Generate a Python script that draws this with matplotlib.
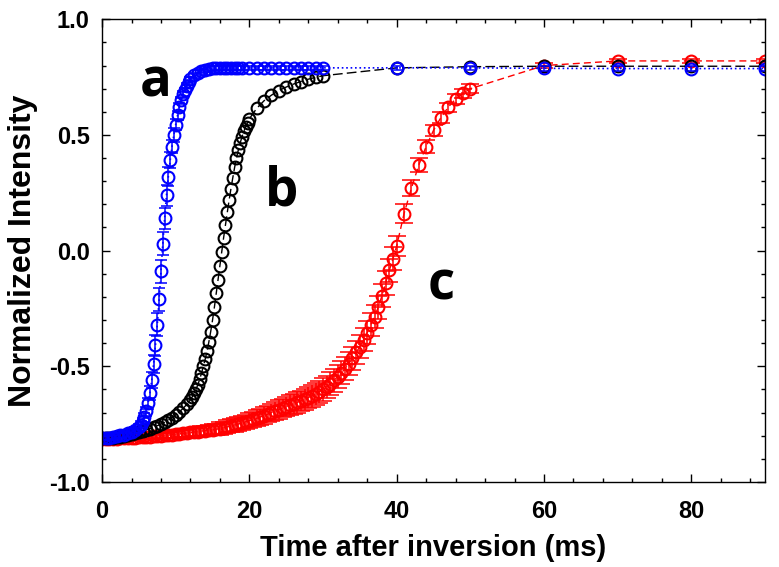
import matplotlib
matplotlib.use('Agg')
import matplotlib.pyplot as plt
from matplotlib.ticker import MultipleLocator

# curve a (blue)
t_a = [0, 0.5, 1, 1.5, 2, 2.5, 3, 3.5, 4, 4.5, 5,
       5.25, 5.5, 5.75, 6, 6.25, 6.5, 6.75, 7, 7.25, 7.5, 7.75, 8, 8.25, 8.5, 8.75,
       9, 9.25, 9.5, 9.75, 10, 10.25, 10.5, 10.75, 11, 11.25, 11.5, 11.75, 12,
       12.5, 13, 13.5, 14, 14.5, 15, 15.5, 16, 16.5, 17, 17.5, 18, 18.5, 19,
       20, 21, 22, 23, 24, 25, 26, 27, 28, 29, 30,
       40, 50, 60, 70, 80, 90]
y_a = [-0.81, -0.81, -0.808, -0.805, -0.80, -0.798, -0.795, -0.79, -0.783, -0.775, -0.763,
       -0.752, -0.738, -0.72, -0.695, -0.66, -0.615, -0.56, -0.49, -0.41, -0.32, -0.21, -0.09, 0.03, 0.14, 0.24,
       0.32, 0.39, 0.45, 0.50, 0.545, 0.585, 0.62, 0.65, 0.675, 0.695, 0.713, 0.728, 0.74,
       0.757, 0.769, 0.777, 0.782, 0.786, 0.788, 0.789, 0.79, 0.79, 0.79, 0.79, 0.79, 0.79, 0.79,
       0.79, 0.79, 0.79, 0.79, 0.79, 0.79, 0.79, 0.79, 0.79, 0.79, 0.79,
       0.79, 0.79, 0.788, 0.787, 0.787, 0.787]
e_a = [0.01, 0.01, 0.01, 0.01, 0.01, 0.01, 0.01, 0.01, 0.01, 0.012, 0.012,
       0.015, 0.015, 0.02, 0.02, 0.025, 0.03, 0.035, 0.04, 0.045, 0.05, 0.05, 0.05, 0.05, 0.045, 0.045,
       0.04, 0.035, 0.03, 0.03, 0.025, 0.02, 0.02, 0.015, 0.015, 0.01, 0.01, 0.01, 0.01,
       0.01, 0.01, 0.01, 0.01, 0.01, 0.01, 0.01, 0.01, 0.01, 0.01, 0.01, 0.01, 0.01, 0.01,
       0.01, 0.01, 0.01, 0.01, 0.01, 0.01, 0.01, 0.01, 0.01, 0.01, 0.01,
       0.01, 0.01, 0.01, 0.01, 0.01, 0.01]

# curve b (black)
t_b = [0, 0.5, 1, 1.5, 2, 2.5, 3, 3.5, 4, 4.5, 5, 5.5, 6, 6.5, 7, 7.5, 8, 8.5, 9, 9.5,
       10, 10.5, 11, 11.5, 12,
       12.25, 12.5, 12.75, 13, 13.25, 13.5, 13.75, 14, 14.25, 14.5, 14.75, 15, 15.25, 15.5, 15.75,
       16, 16.25, 16.5, 16.75, 17, 17.25, 17.5, 17.75, 18, 18.25, 18.5, 18.75, 19, 19.25, 19.5, 19.75, 20,
       21, 22, 23, 24, 25, 26, 27, 28, 29, 30,
       40, 50, 60, 70, 80, 90]
y_b = [-0.81, -0.81, -0.81, -0.808, -0.806, -0.804, -0.80, -0.797, -0.793, -0.789, -0.785, -0.78, -0.775,
       -0.77, -0.764, -0.757, -0.75, -0.742, -0.733, -0.722, -0.71, -0.697, -0.682, -0.665, -0.645,
       -0.632, -0.617, -0.60, -0.58, -0.557, -0.53, -0.50, -0.47, -0.435, -0.395, -0.35, -0.30, -0.245, -0.185, -0.125,
       -0.065, -0.005, 0.055, 0.11, 0.165, 0.218, 0.268, 0.315, 0.36, 0.40, 0.435, 0.465, 0.492, 0.515, 0.535, 0.553, 0.57,
       0.615, 0.648, 0.672, 0.692, 0.707, 0.72, 0.731, 0.741, 0.749, 0.756,
       0.79, 0.795, 0.797, 0.797, 0.797, 0.797]

# curve c (red)
t_c = [0, 0.5, 1, 1.5, 2, 2.5, 3, 3.5, 4, 4.5, 5, 5.5, 6, 6.5, 7, 7.5, 8, 8.5, 9, 9.5,
       10, 10.5, 11, 11.5, 12, 12.5, 13, 13.5, 14, 14.5, 15, 15.5, 16, 16.5, 17, 17.5, 18, 18.5, 19, 19.5,
       20, 20.5, 21, 21.5, 22, 22.5, 23, 23.5, 24, 24.5, 25, 25.5, 26, 26.5, 27, 27.5, 28, 28.5, 29, 29.5,
       30, 30.5, 31, 31.5, 32, 32.5, 33, 33.5, 34, 34.5, 35, 35.5, 36, 36.5, 37, 37.5, 38, 38.5, 39, 39.5,
       40, 41, 42, 43, 44, 45, 46, 47, 48, 49, 50,
       60, 70, 80, 90]
y_c = [-0.815, -0.815, -0.815, -0.814, -0.813, -0.812, -0.811, -0.81, -0.809, -0.808,
       -0.807, -0.806, -0.805, -0.804, -0.803, -0.801, -0.80, -0.799, -0.797, -0.796,
       -0.794, -0.792, -0.79, -0.788, -0.786, -0.784, -0.782, -0.78, -0.778, -0.777,
       -0.775, -0.772, -0.769, -0.766, -0.762, -0.758, -0.754, -0.75, -0.745, -0.74,
       -0.735, -0.73, -0.725, -0.719, -0.713, -0.707, -0.70, -0.694, -0.687, -0.68,
       -0.674, -0.668, -0.662, -0.656, -0.65, -0.643, -0.635, -0.628, -0.62, -0.61,
       -0.60, -0.588, -0.575, -0.56, -0.545, -0.528, -0.51, -0.488, -0.465, -0.44,
       -0.415, -0.386, -0.355, -0.32, -0.285, -0.245, -0.195, -0.14, -0.085, -0.035,
       0.02, 0.16, 0.27, 0.37, 0.45, 0.52, 0.575, 0.62, 0.655, 0.68, 0.70,
       0.80, 0.82, 0.82, 0.82]
e_c = [0.01, 0.01, 0.01, 0.01, 0.01, 0.01, 0.01, 0.01, 0.01, 0.01,
       0.01, 0.01, 0.01, 0.01, 0.012, 0.012, 0.012, 0.012, 0.014, 0.014,
       0.015, 0.015, 0.016, 0.016, 0.018, 0.018, 0.02, 0.02, 0.022, 0.022,
       0.024, 0.024, 0.026, 0.026, 0.028, 0.028, 0.03, 0.03, 0.03, 0.03,
       0.032, 0.032, 0.034, 0.034, 0.036, 0.036, 0.038, 0.038, 0.04, 0.04,
       0.042, 0.042, 0.044, 0.044, 0.045, 0.045, 0.046, 0.046, 0.047, 0.047,
       0.048, 0.048, 0.05, 0.05, 0.05, 0.05, 0.05, 0.05, 0.05, 0.05,
       0.05, 0.05, 0.05, 0.05, 0.05, 0.05, 0.05, 0.05, 0.05, 0.05,
       0.045, 0.04, 0.035, 0.03, 0.03, 0.025, 0.025, 0.02, 0.02, 0.02, 0.02,
       0.01, 0.01, 0.01, 0.01]

plt.rcParams['font.family'] = ['Liberation Sans', 'DejaVu Sans']
plt.rcParams['font.weight'] = 'bold'

fig = plt.figure(figsize=(7.79, 5.67), dpi=100)
ax = fig.add_axes([0.131, 0.150, 0.851, 0.816])

ms = 8.5
mew = 1.5

# red first, then black, then blue on top
ax.errorbar(t_c, y_c, yerr=e_c, fmt='none', ecolor='red', elinewidth=1.1, capsize=6.5, capthick=1.1)
ax.plot(t_c, y_c, color='red', ls=(0, (5, 3)), lw=1, marker='o', ms=ms, mfc='none', mec='red', mew=mew)

ax.plot(t_b, y_b, color='black', ls=(0, (7, 3)), lw=1, marker='o', ms=ms, mfc='none', mec='black', mew=mew)

ax.errorbar(t_a, y_a, yerr=e_a, fmt='none', ecolor='blue', elinewidth=1.1, capsize=4, capthick=1.1)
ax.plot(t_a, y_a, color='blue', ls=':', lw=1.2, marker='o', ms=ms, mfc='none', mec='blue', mew=mew)

lab_font = dict(family=['Open Sans', 'DejaVu Sans'], fontsize=38, fontweight='bold', color='black')
ax.text(7.3, 0.665, 'a', ha='center', va='baseline', **lab_font)
ax.text(24.4, 0.195, 'b', ha='center', va='baseline', **lab_font)
ax.text(46.0, -0.213, 'c', ha='center', va='baseline', **lab_font)

ax.set_xlim(0, 90)
ax.set_ylim(-1.0, 1.0)
ax.xaxis.set_major_locator(MultipleLocator(20))
ax.xaxis.set_minor_locator(MultipleLocator(4))
ax.yaxis.set_major_locator(MultipleLocator(0.5))
ax.yaxis.set_minor_locator(MultipleLocator(0.1))
ax.yaxis.set_major_formatter(plt.FuncFormatter(lambda v, p: '%.1f' % v))

ax.tick_params(which='both', direction='in', top=True, right=True, width=1)
ax.tick_params(which='major', length=6, labelsize=17)
ax.tick_params(axis='x', which='major', pad=13)
ax.tick_params(axis='y', which='major', pad=9)
ax.tick_params(which='minor', length=3)
for lab in ax.get_xticklabels() + ax.get_yticklabels():
    lab.set_fontweight('bold')
for s in ax.spines.values():
    s.set_linewidth(1.0)

ax.set_xlabel('Time after inversion (ms)', fontsize=21, fontweight='bold', labelpad=8)
ax.set_ylabel('Normalized Intensity', fontsize=23, fontweight='bold', labelpad=8)

fig.savefig('out.png', dpi=100)
